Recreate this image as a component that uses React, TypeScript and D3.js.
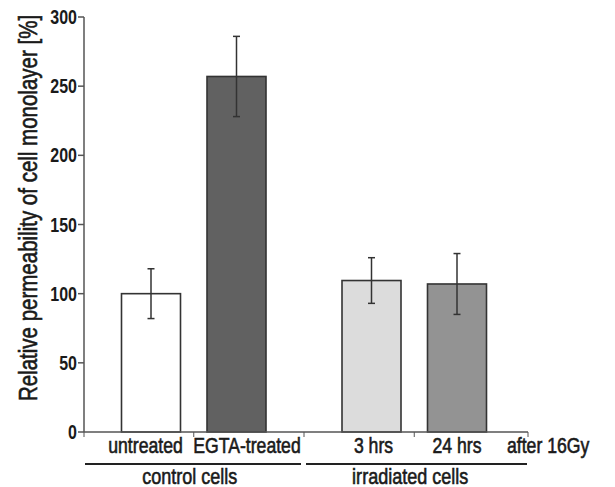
import React from "react";
import * as d3 from "d3";

const categories = ["untreated", "EGTA-treated", "3 hrs", "24 hrs"];
const groups = ["control cells", "irradiated cells"];
const groupOf = [0, 0, 1, 1];
const values = [100, 257, 109.5, 107];
const errors = [18, 29, 16.5, 22];
const fills = ["#ffffff", "#616161", "#dcdcdc", "#939393"];
const yTicks = [0, 50, 100, 150, 200, 250, 300];
const afterLabel = "after 16Gy";
const yTitle = "Relative permeability of cell monolayer [%]";

const W = 615;
const H = 487;
const FONT = "'Liberation Sans', Arial, sans-serif";
const NARROW = 0.82;

function NText(props: {
  x: number;
  y: number;
  anchor?: string;
  size: number;
  weight?: string | number;
  rotate?: number;
  fill?: string;
  thick?: number;
  children: React.ReactNode;
}) {
  const { x, y, anchor = "middle", size, weight = "normal", rotate = 0, fill = "#1a1a1a", thick = 0 } = props;
  return (
    <g transform={`translate(${x},${y}) rotate(${rotate}) scale(${NARROW},1)`}>
      <text
        textAnchor={anchor}
        fontFamily={FONT}
        fontSize={size}
        fontWeight={weight}
        fill={fill}
        stroke={thick ? fill : "none"}
        strokeWidth={thick}
      >
        {props.children}
      </text>
    </g>
  );
}

export default function App() {
  const axisX = 84;
  const axisEnd = 528;
  const y = d3.scaleLinear().domain([0, 300]).range([432, 17]);

  const gx = d3.scaleBand<string>().domain(groups).range([83.5, 524.5]).padding(0);
  const inner = d3.scalePoint<number>().domain([0, 1]).range([-42.75, 42.75]);
  const innerIdx = [0, 1, 0, 1];
  const cx = (i: number) => (gx(groups[groupOf[i]]) as number) + gx.bandwidth() / 2 + (inner(innerIdx[i]) as number);
  const barW = 59;
  const capW = 7;
  const axisColor = "#555";
  const ink = "#333";

  const tickXs = [axisX, ...d3.range(categories.length - 1).map((i) => (cx(i) + cx(i + 1)) / 2), axisEnd];
  const split = (cx(1) + cx(2)) / 2;
  const labelDx = [-5.5, 10.5, 2, 0];

  return (
    <div style={{ position: "absolute", left: 0, top: 0 }}>
      <svg width={W} height={H} viewBox={`0 0 ${W} ${H}`} style={{ display: "block", background: "#fff" }}>
        {/* y axis */}
        <line x1={axisX} x2={axisX} y1={y(300)} y2={y(0)} stroke={axisColor} strokeWidth={1.5} />
        {yTicks.map((t) => (
          <g key={t}>
            <line x1={axisX - 6} x2={axisX} y1={y(t)} y2={y(t)} stroke={axisColor} strokeWidth={1.5} />
            <NText x={axisX - 7} y={y(t) + 7} anchor="end" size={19.5} weight="bold">
              {t}
            </NText>
          </g>
        ))}
        <NText x={37} y={208} rotate={-90} size={25} thick={0.6}>
          {yTitle}
        </NText>

        {/* bars */}
        {values.map((v, i) => (
          <g key={categories[i]}>
            <rect
              x={cx(i) - barW / 2}
              y={y(v)}
              width={barW}
              height={y(0) - y(v)}
              fill={fills[i]}
              stroke={ink}
              strokeWidth={1.6}
            />
            <line x1={cx(i)} x2={cx(i)} y1={y(v + errors[i])} y2={y(v - errors[i])} stroke={ink} strokeWidth={1.5} />
            <line x1={cx(i) - capW / 2} x2={cx(i) + capW / 2} y1={y(v + errors[i])} y2={y(v + errors[i])} stroke={ink} strokeWidth={1.5} />
            <line x1={cx(i) - capW / 2} x2={cx(i) + capW / 2} y1={y(v - errors[i])} y2={y(v - errors[i])} stroke={ink} strokeWidth={1.5} />
          </g>
        ))}

        {/* x axis */}
        <line x1={axisX} x2={axisEnd} y1={y(0)} y2={y(0)} stroke={axisColor} strokeWidth={1.5} />
        {tickXs.map((tx, i) => (
          <line key={i} x1={tx} x2={tx} y1={y(0)} y2={y(0) + 5} stroke={axisColor} strokeWidth={1} />
        ))}
        {categories.map((c, i) => (
          <NText key={c} x={cx(i) + labelDx[i]} y={453} size={21.5} thick={0.6}>
            {c}
          </NText>
        ))}
        <NText x={507} y={453} anchor="start" size={21.5} thick={0.6}>
          {afterLabel}
        </NText>

        {/* group brackets */}
        <line x1={axisX + 1} x2={split - 3} y1={464} y2={464} stroke="#222" strokeWidth={2} />
        <line x1={split + 2} x2={axisEnd - 1} y1={464} y2={464} stroke="#222" strokeWidth={2} />
        {groups.map((g) => (
          <NText key={g} x={(gx(g) as number) + gx.bandwidth() / 2 - 4} y={483.5} size={22} thick={0.6}>
            {g}
          </NText>
        ))}
      </svg>
    </div>
  );
}
